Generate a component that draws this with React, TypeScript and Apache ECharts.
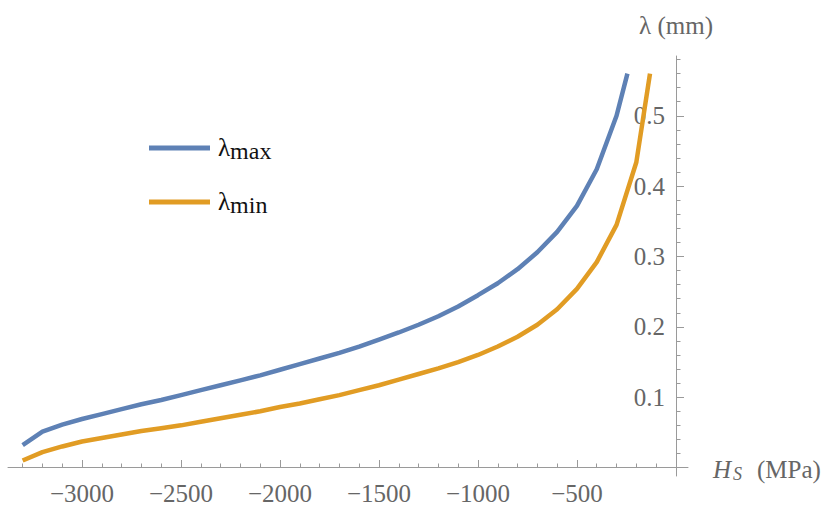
import React, { useEffect, useRef } from 'react';
import * as echarts from 'echarts';

// Hs (MPa) sample positions and lambda (mm) values
const blueX = [-3300, -3200, -3100, -3000, -2900, -2800, -2700, -2600, -2500, -2400, -2300, -2200, -2100, -2000, -1900, -1800, -1700, -1600, -1500, -1400, -1300, -1200, -1100, -1000, -900, -800, -700, -600, -500, -400, -300, -245];
const blueY = [0.032, 0.051, 0.061, 0.069, 0.076, 0.083, 0.090, 0.096, 0.103, 0.110, 0.117, 0.124, 0.131, 0.139, 0.147, 0.155, 0.163, 0.172, 0.182, 0.192, 0.203, 0.215, 0.229, 0.245, 0.262, 0.282, 0.306, 0.335, 0.372, 0.424, 0.500, 0.560];

const orangeX = [-3300, -3200, -3100, -3000, -2900, -2800, -2700, -2600, -2500, -2400, -2300, -2200, -2100, -2000, -1900, -1800, -1700, -1600, -1500, -1400, -1300, -1200, -1100, -1000, -900, -800, -700, -600, -500, -400, -300, -200, -131];
const orangeY = [0.010, 0.022, 0.030, 0.037, 0.042, 0.047, 0.052, 0.056, 0.060, 0.065, 0.070, 0.075, 0.080, 0.086, 0.091, 0.097, 0.103, 0.110, 0.117, 0.125, 0.133, 0.141, 0.150, 0.160, 0.172, 0.186, 0.203, 0.225, 0.254, 0.292, 0.345, 0.434, 0.560];

const seriesNames = ['λmax', 'λmin'];

const xMajorTicks = [-3000, -2500, -2000, -1500, -1000, -500];
const xMinorTicks = [-3300, -3200, -3100, -3000, -2900, -2800, -2700, -2600, -2500, -2400, -2300, -2200, -2100, -2000, -1900, -1800, -1700, -1600, -1500, -1400, -1300, -1200, -1100, -1000, -900, -800, -700, -600, -500, -400, -300, -200, -100];
const yMajorTicks = [0.1, 0.2, 0.3, 0.4, 0.5];
const yMinorTicks = [0.02, 0.04, 0.06, 0.08, 0.1, 0.12, 0.14, 0.16, 0.18, 0.2, 0.22, 0.24, 0.26, 0.28, 0.3, 0.32, 0.34, 0.36, 0.38, 0.4, 0.42, 0.44, 0.46, 0.48, 0.5, 0.52, 0.54, 0.56, 0.58];

const FONT = 'Liberation Serif, Times New Roman, serif';
const AXIS_COLOR = '#9a9a9a';
const LABEL_COLOR = '#666666';

export default function App() {
  const ref = useRef<HTMLDivElement>(null);

  useEffect(() => {
    if (!ref.current) return;
    const chart = echarts.init(ref.current, undefined, { renderer: 'svg' });

    const xRange = { min: -3374, max: 61 };
    const yRange = { min: -0.012, max: 0.585 };

    const legendRich = {
      l: { fontSize: 25, fontFamily: FONT, color: '#111', verticalAlign: 'bottom', lineHeight: 30, padding: [0, 0, 3, 3] },
      s: { fontSize: 24, fontFamily: FONT, color: '#111', verticalAlign: 'bottom', lineHeight: 30 },
    };
    const legendBase = {
      orient: 'vertical',
      icon: 'rect',
      itemWidth: 61,
      itemHeight: 5,
      left: 144,
      formatter: (n: string) => (n === 'λmax' ? '{l|λ}{s|max}' : '{l|λ}{s|min}'),
      textStyle: { fontFamily: FONT, fontSize: 25, color: '#111', rich: legendRich },
    };

    const labelFont = { fontFamily: FONT, fontSize: 25, color: LABEL_COLOR };

    chart.setOption({
      animation: false,
      backgroundColor: '#ffffff',
      textStyle: { fontFamily: FONT },
      grid: { left: 8, right: 136, top: 56, bottom: 37, containLabel: false, outerBoundsMode: 'none' },
      legend: [
        { ...legendBase, data: [seriesNames[0]], top: 130 },
        { ...legendBase, data: [seriesNames[1]], top: 184 },
      ],
      graphic: [
        { type: 'text', left: 713, top: 457, style: { text: 'H', font: `italic 25px ${FONT}`, fill: LABEL_COLOR } },
        { type: 'text', left: 733, top: 465, style: { text: 'S', font: `italic 18px ${FONT}`, fill: LABEL_COLOR } },
        { type: 'text', left: 757, top: 457, style: { text: '(MPa)', font: `25px ${FONT}`, fill: LABEL_COLOR } },
      ],
      xAxis: [
        {
          type: 'value',
          ...xRange,
          position: 'bottom',
          offset: -8.5,
          axisLine: { onZero: false, lineStyle: { color: AXIS_COLOR, width: 1 } },
          axisTick: { show: true, inside: true, length: 7.5, customValues: xMajorTicks, lineStyle: { color: AXIS_COLOR } },
          axisLabel: {
            customValues: xMajorTicks,
            margin: 13,
            ...labelFont,
            formatter: (v: number) => String(v).replace('-', '\u2212'),
          },
          splitLine: { show: false },
        },
        {
          type: 'value',
          ...xRange,
          position: 'bottom',
          offset: -8.5,
          axisLine: { show: false, onZero: false },
          axisTick: { show: true, inside: true, length: 4, customValues: xMinorTicks, lineStyle: { color: AXIS_COLOR } },
          axisLabel: { show: false },
          splitLine: { show: false },
        },
      ],
      yAxis: [
        {
          type: 'value',
          ...yRange,
          position: 'right',
          offset: -12,
          axisLine: { show: true, onZero: false, lineStyle: { color: AXIS_COLOR, width: 1 } },
          axisTick: { show: true, inside: false, length: 8, customValues: yMajorTicks, lineStyle: { color: AXIS_COLOR } },
          axisLabel: {
            customValues: yMajorTicks,
            inside: true,
            margin: 11,
            ...labelFont,
            formatter: (v: number) => v.toFixed(1),
          },
          splitLine: { show: false },
          name: 'λ (mm)',
          nameLocation: 'end',
          nameGap: 18,
          nameTextStyle: { ...labelFont, align: 'center' },
        },
        {
          type: 'value',
          ...yRange,
          position: 'right',
          offset: -12,
          axisLine: { show: false, onZero: false },
          axisTick: { show: true, inside: false, length: 4.5, customValues: yMinorTicks, lineStyle: { color: AXIS_COLOR } },
          axisLabel: { show: false },
          splitLine: { show: false },
        },
      ],
      series: [
        {
          name: seriesNames[0],
          type: 'line',
          xAxisIndex: 0,
          yAxisIndex: 0,
          showSymbol: false,
          symbol: 'none',
          color: '#5E81B5',
          lineStyle: { width: 4.5, color: '#5E81B5' },
          data: blueX.map((x, i) => [x, blueY[i]]),
        },
        {
          name: seriesNames[1],
          type: 'line',
          xAxisIndex: 0,
          yAxisIndex: 0,
          showSymbol: false,
          symbol: 'none',
          color: '#E19C24',
          lineStyle: { width: 4.5, color: '#E19C24' },
          data: orangeX.map((x, i) => [x, orangeY[i]]),
        },
      ],
    });

    return () => chart.dispose();
  }, []);

  return (
    <div
      ref={ref}
      style={{ position: 'fixed', left: 0, top: 0, width: 824, height: 513, background: '#fff' }}
    />
  );
}
